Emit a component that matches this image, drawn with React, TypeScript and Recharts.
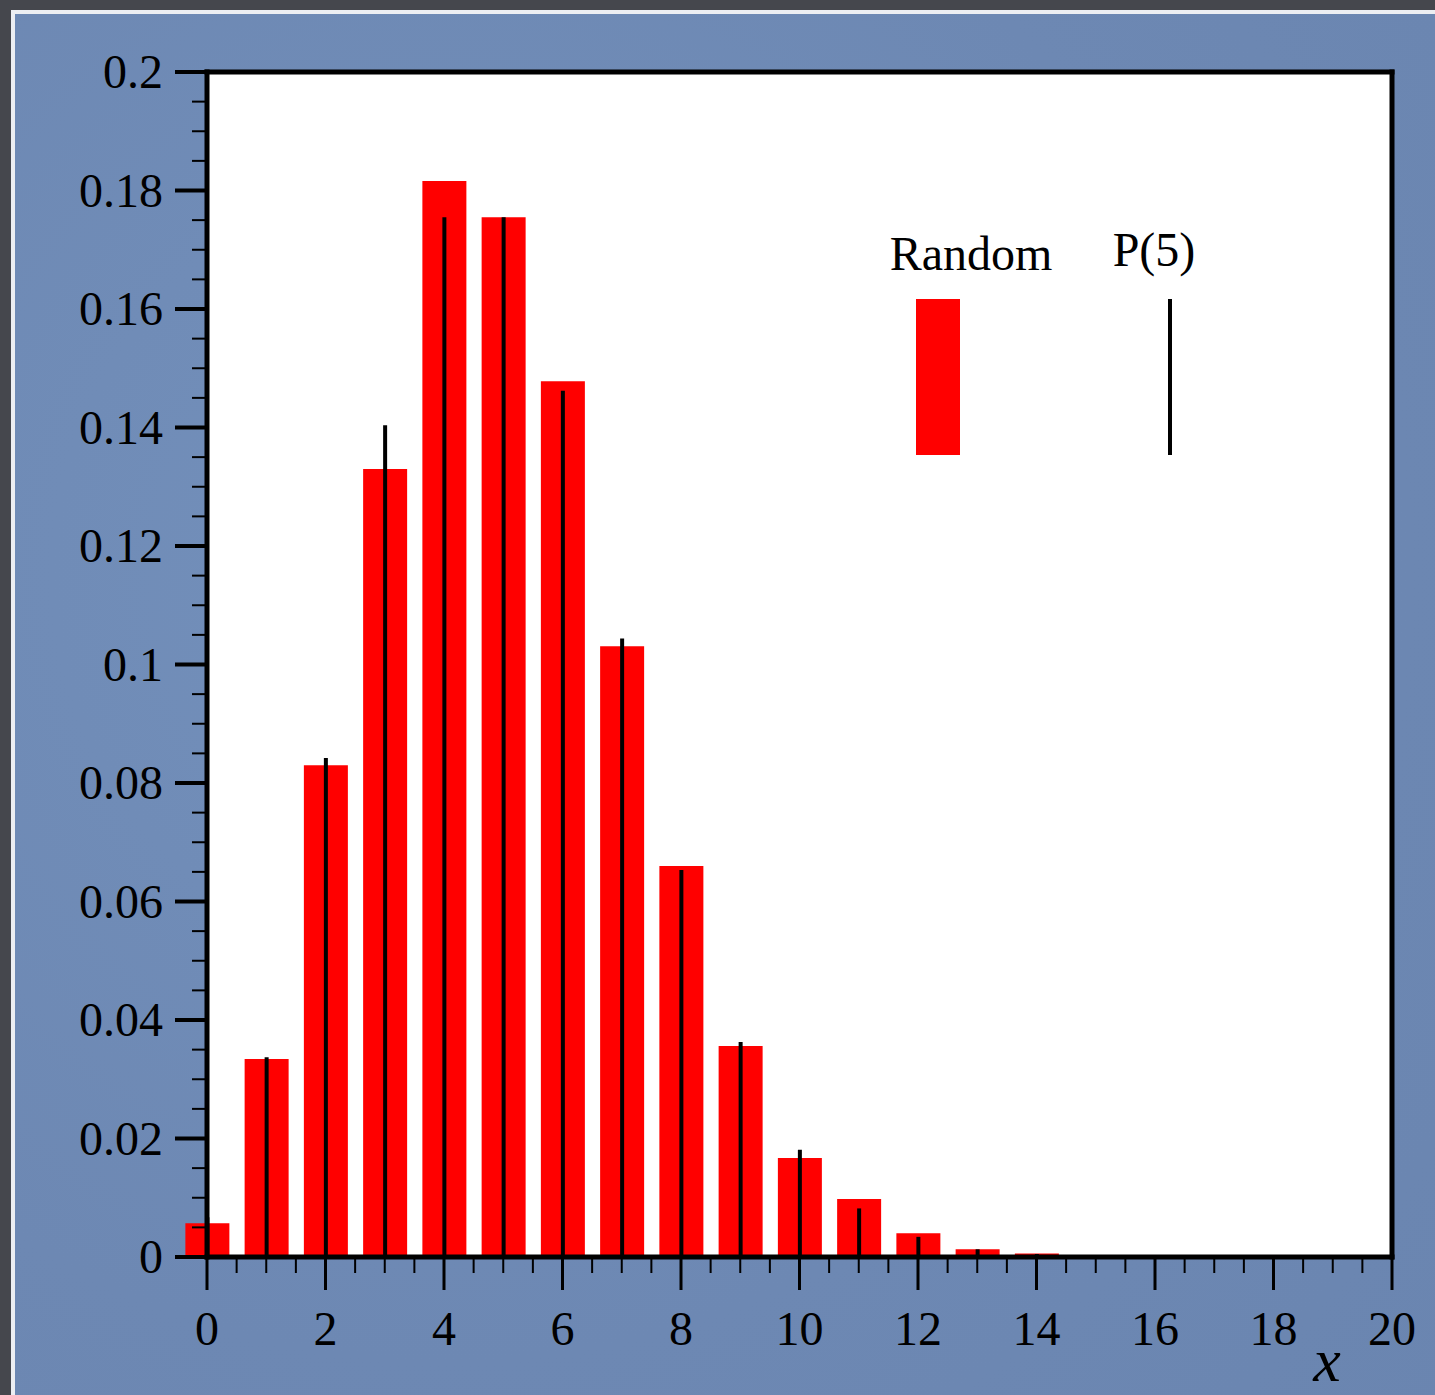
import { ComposedChart, Bar, XAxis, YAxis, CartesianGrid, Legend } from "recharts";

// values, one per integer x
const xValues = [0, 1, 2, 3, 4, 5, 6, 7, 8, 9, 10, 11, 12, 13, 14, 15, 16];
const randomFreq = [
  0.0057, 0.0334, 0.083, 0.133, 0.1816, 0.1755, 0.1478, 0.1031, 0.066, 0.0356,
  0.0167, 0.0098, 0.004, 0.0013, 0.0006, 0.0002, 0.0002,
];
const poisson5 = [
  0.0067, 0.0337, 0.0842, 0.1404, 0.1755, 0.1755, 0.1462, 0.1044, 0.0653, 0.0363,
  0.0181, 0.0082, 0.0034, 0.0013, 0.0005, 0.0002, 0.0001,
];

const xMajorTicks = [0, 2, 4, 6, 8, 10, 12, 14, 16, 18, 20];
const xTickLabels = ["0", "2", "4", "6", "8", "10", "12", "14", "16", "18", "20"];
const yMajorTicks = [0, 0.02, 0.04, 0.06, 0.08, 0.1, 0.12, 0.14, 0.16, 0.18, 0.2];
const yTickLabels = ["0", "0.02", "0.04", "0.06", "0.08", "0.1", "0.12", "0.14", "0.16", "0.18", "0.2"];

const data = xValues.map((x, i) => ({ x, random: randomFreq[i], p5: poisson5[i] }));

// minor ticks: every 0.5 on x, every 0.005 on y
const xTicks: number[] = [];
for (let i = 0; i <= 40; i++) xTicks.push(i / 2);
const yTicks: number[] = [];
for (let i = 0; i <= 40; i++) yTicks.push(i * 0.005);

const SERIF = '"Liberation Serif", "Times New Roman", serif';

const YTick = ({ x, y, payload }: any) => {
  const idx = yMajorTicks.findIndex((t) => Math.abs(t - payload.value) < 1e-9);
  const major = idx >= 0;
  return (
    <g>
      <line x1={x - (major ? 32 : 15)} x2={x} y1={y} y2={y} stroke="#000" strokeWidth={major ? 4 : 2} />
      {major && (
        <text x={x - 44} y={y + 16} textAnchor="end" fontSize={48} fontFamily={SERIF} fill="#000">
          {yTickLabels[idx]}
        </text>
      )}
    </g>
  );
};

const XTick = ({ x, y, payload }: any) => {
  const idx = xMajorTicks.findIndex((t) => Math.abs(t - payload.value) < 1e-9);
  const major = idx >= 0;
  return (
    <g>
      <line x1={x} x2={x} y1={y} y2={y + (major ? 33 : 16)} stroke="#000" strokeWidth={major ? 3 : 2} />
      {major && (
        <text x={x} y={y + 88} textAnchor="middle" fontSize={48} fontFamily={SERIF} fill="#000">
          {xTickLabels[idx]}
        </text>
      )}
    </g>
  );
};

const XLabel = ({ viewBox }: any) => (
  <text
    x={viewBox.x + viewBox.width - 65}
    y={viewBox.y + 124}
    textAnchor="middle"
    fontSize={62}
    fontStyle="italic"
    fontFamily={SERIF}
    fill="#000"
  >
    x
  </text>
);

const LegendBox = ({ payload }: any) => {
  const items = payload || [];
  const random = items.find((p: any) => p.value === "Random");
  const p5 = items.find((p: any) => p.value === "P(5)");
  return (
    <svg width={340} height={250} style={{ display: "block" }}>
      <text x={101} y={55} textAnchor="middle" fontSize={48} fontFamily={SERIF} fill="#000">
        {random?.value}
      </text>
      <rect x={46} y={84} width={44} height={156} fill={random?.color} />
      <text x={284} y={51} textAnchor="middle" fontSize={48} fontFamily={SERIF} fill="#000">
        {p5?.value}
      </text>
      <line x1={300} x2={300} y1={84} y2={240} stroke={p5?.color} strokeWidth={4} />
    </svg>
  );
};

const axisLine = { stroke: "#000", strokeWidth: 5, strokeLinecap: "square" as const };

export default function App() {
  return (
    <div
      style={{
        position: "absolute",
        top: 0,
        left: 0,
        width: 1435,
        height: 1395,
        background: "#45474d",
        overflow: "hidden",
      }}
    >
      {/* blue slide panel with thin white edge */}
      <div
        style={{
          position: "absolute",
          top: 10,
          left: 11,
          width: 1440,
          height: 1400,
          borderTop: "4px solid #eceef2",
          borderLeft: "4px solid #eceef2",
          background: "radial-gradient(circle at 30% 40%, #7390bb 0%, #6d88b3 60%, #6a85b0 100%)",
        }}
      />
      <div style={{ position: "absolute", top: 0, left: 0 }}>
        <ComposedChart
          width={1435}
          height={1395}
          data={data}
          margin={{ top: 71, right: 42, bottom: 0, left: 0 }}
        >
          <CartesianGrid horizontal={false} vertical={false} fill="#ffffff" fillOpacity={1} stroke="none" />
          <XAxis
            xAxisId="bottom"
            dataKey="x"
            type="number"
            domain={[0, 20]}
            ticks={xTicks}
            interval={0}
            height={138}
            tickSize={0}
            tickMargin={0}
            tickLine={false}
            tick={<XTick />}
            axisLine={axisLine}
            label={<XLabel />}
          />
          <XAxis
            xAxisId="top"
            dataKey="x"
            type="number"
            orientation="top"
            domain={[0, 20]}
            height={1}
            tick={false}
            tickLine={false}
            axisLine={axisLine}
          />
          <YAxis
            type="number"
            domain={[0, 0.2]}
            ticks={yTicks}
            interval={0}
            width={207}
            tickSize={0}
            tickMargin={0}
            tickLine={false}
            tick={<YTick />}
            axisLine={axisLine}
          />
          <YAxis
            yAxisId="right"
            orientation="right"
            type="number"
            domain={[0, 0.2]}
            width={1}
            tick={false}
            tickLine={false}
            axisLine={axisLine}
          />
          <Legend
            layout="vertical"
            align="center"
            verticalAlign="middle"
            content={<LegendBox />}
            wrapperStyle={{ position: "absolute", left: 870, top: 215, width: 340, height: 250 }}
          />
          <Bar
            xAxisId="bottom"
            dataKey="random"
            name="Random"
            fill="#ff0000"
            barSize={44}
            isAnimationActive={false}
          />
          <Bar
            xAxisId="top"
            dataKey="p5"
            name="P(5)"
            fill="#000000"
            barSize={4}
            isAnimationActive={false}
          />
        </ComposedChart>
      </div>
    </div>
  );
}
